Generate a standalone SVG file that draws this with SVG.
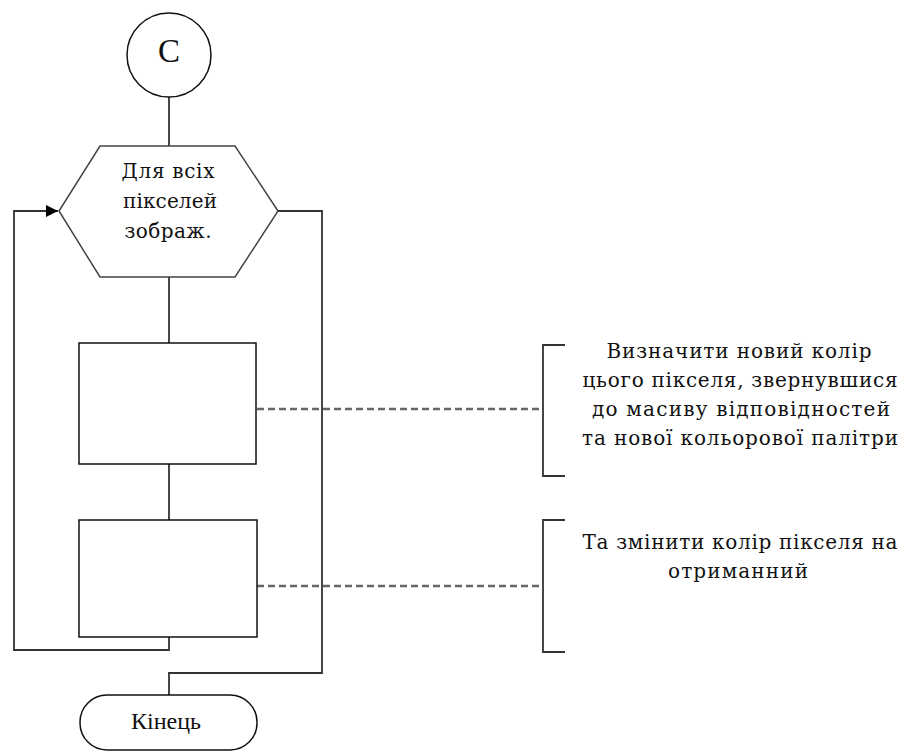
<svg xmlns="http://www.w3.org/2000/svg" width="904" height="752" viewBox="0 0 904 752">
<style>
.shape{fill:#fff;stroke:#111;stroke-width:1.5}
.hex{fill:#fff;stroke:#444;stroke-width:1.5}
.conn{fill:none;stroke:#333;stroke-width:1.8}
.dash{fill:none;stroke:#666;stroke-width:2.5;stroke-dasharray:7 4}
.br{fill:none;stroke:#333;stroke-width:1.8}
.t{font-family:"DejaVu Serif","Liberation Serif",serif;font-size:20px;fill:#111;text-anchor:middle}
.ts{font-family:"Liberation Serif","Times New Roman",serif;fill:#111;text-anchor:middle}
</style>
<defs>
<marker id="arr" markerWidth="12" markerHeight="12" refX="12" refY="6" orient="auto" markerUnits="userSpaceOnUse">
<path d="M0,0 L12,6 L0,12 Z" fill="#000"/>
</marker>
</defs>
<rect width="904" height="752" fill="#fff"/>
<g id="connectors">
<path class="conn" d="M169,97 V146"/>
<path class="conn" d="M169,277 V343"/>
<path class="conn" d="M169,464 V520"/>
<path class="conn" d="M169,637 V650 H14 V211 H58" marker-end="url(#arr)"/>
<path class="conn" d="M278,211 H322 V673 H169 V695"/>
<path class="dash" d="M257,409 H543"/>
<path class="dash" d="M257,586 H543"/>
</g>
<g id="start">
<circle class="shape" cx="169" cy="55" r="42"/>
<text class="ts" x="169" y="62" style="font-size:33px">C</text>
</g>
<g id="loop">
<polygon class="hex" points="100,146 235,146 278,211 235,277 100,277 59,211"/>
<text class="t" x="168" y="178" textLength="93" lengthAdjust="spacing">Для всіх</text>
<text class="t" x="170" y="208" textLength="94" lengthAdjust="spacing">пікселей</text>
<text class="t" x="168" y="238" textLength="87" lengthAdjust="spacing">зображ.</text>
</g>
<g id="process1">
<rect class="shape" x="79" y="343" width="177" height="121"/>
</g>
<g id="process2">
<rect class="shape" x="79" y="520" width="178" height="117"/>
</g>
<g id="end">
<rect class="shape" x="80" y="695" width="177" height="55" rx="27" ry="27"/>
<text class="ts" x="166" y="729" style="font-size:24px">Кінець</text>
</g>
<g id="note1">
<path class="br" d="M565,345 H543 V476 H565"/>
<text class="t" x="739" y="358" textLength="265" lengthAdjust="spacing">Визначити новий колір</text>
<text class="t" x="740" y="387" textLength="315" lengthAdjust="spacing">цього пікселя, звернувшися</text>
<text class="t" x="741" y="416" textLength="298" lengthAdjust="spacing">до масиву відповідностей</text>
<text class="t" x="740" y="445" textLength="316" lengthAdjust="spacing">та нової кольорової палітри</text>
</g>
<g id="note2">
<path class="br" d="M565,520 H543 V652 H565"/>
<text class="t" x="740" y="549" textLength="315" lengthAdjust="spacing">Та змінити колір пікселя на</text>
<text class="t" x="738" y="578" textLength="140" lengthAdjust="spacing">отриманний</text>
</g>
</svg>
